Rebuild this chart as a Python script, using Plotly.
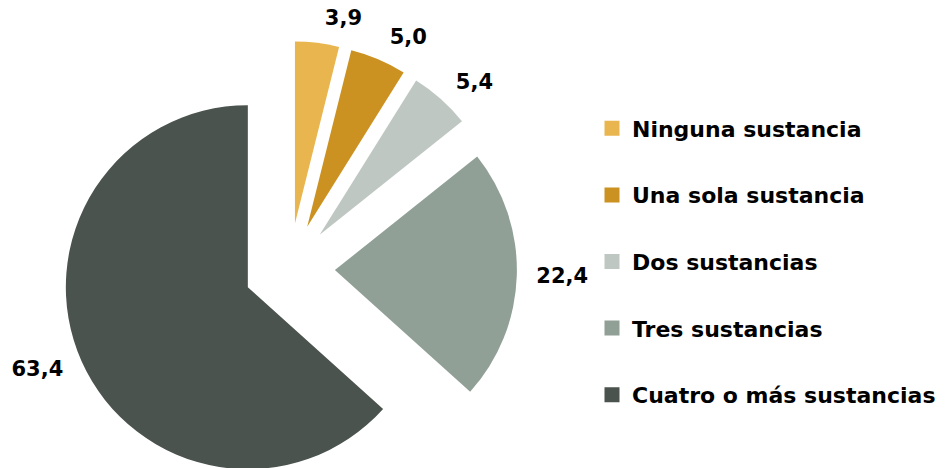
import plotly.graph_objects as go

categories = ["Ninguna sustancia", "Una sola sustancia", "Dos sustancias",
              "Tres sustancias", "Cuatro o más sustancias"]
values = [3.9, 5.0, 5.4, 22.4, 63.4]
colors = ["#E8B54E", "#CC9221", "#BFC7C2", "#91A097", "#4A534D"]

W, H = 947, 520
FONT = "DejaVu Sans"
CX, CY = 289.4, 268.7          # pie centre (px from top-left)
BOX = 455.0                    # square box holding the pulled pie
LBOX = 482.0                   # slightly larger box used to place the outside labels
PULL = 0.25


def dom(box):
    return dict(x=[(CX - box / 2) / W, (CX + box / 2) / W],
                y=[(H - (CY + box / 2)) / H, (H - (CY - box / 2)) / H])


fig = go.Figure()
fig.add_trace(go.Pie(
    labels=categories, values=values, sort=False, direction="clockwise",
    rotation=0, pull=PULL, automargin=False,
    marker=dict(colors=colors, line=dict(width=0)),
    textinfo="none", showlegend=False, domain=dom(BOX),
))

# transparent copies of the pie that only carry the value labels
# (split in two so that neighbouring labels are not pushed apart)
label_sets = [[0, 2, 3, 4], [1]]
for shown in label_sets:
    fig.add_trace(go.Pie(
        labels=categories, values=values, sort=False, direction="clockwise",
        rotation=0, pull=PULL, automargin=False,
        marker=dict(colors=["rgba(0,0,0,0)"] * len(values), line=dict(width=0)),
        textinfo="none",
        texttemplate=["%{value:.1f}" if i in shown else "" for i in range(len(values))],
        textposition="outside",
        textfont=dict(family=FONT, size=21, color="black", weight="bold"),
        hoverinfo="skip", showlegend=False, domain=dom(LBOX),
    ))

for cat, col in zip(categories, colors):
    fig.add_trace(go.Scatter(
        x=[None], y=[None], mode="markers", name=cat, legendgroup=cat,
        marker=dict(symbol="square", size=15, color=col),
    ))

fig.update_layout(
    width=W, height=H, separators=",.",
    margin=dict(l=0, r=0, t=0, b=0, autoexpand=False),
    paper_bgcolor="white", plot_bgcolor="white",
    xaxis=dict(visible=False), yaxis=dict(visible=False),
    legend=dict(x=592 / W, xanchor="left", y=1 - 261.5 / H, yanchor="middle",
                tracegroupgap=35,
                font=dict(family=FONT, size=22, color="black", weight="bold")),
)

fig.write_html("out.html", config={"displayModeBar": False}, post_script=(
    "document.body.style.margin='0';"
    "document.body.style.overflow='hidden';"
    "document.documentElement.style.overflow='hidden';"))
